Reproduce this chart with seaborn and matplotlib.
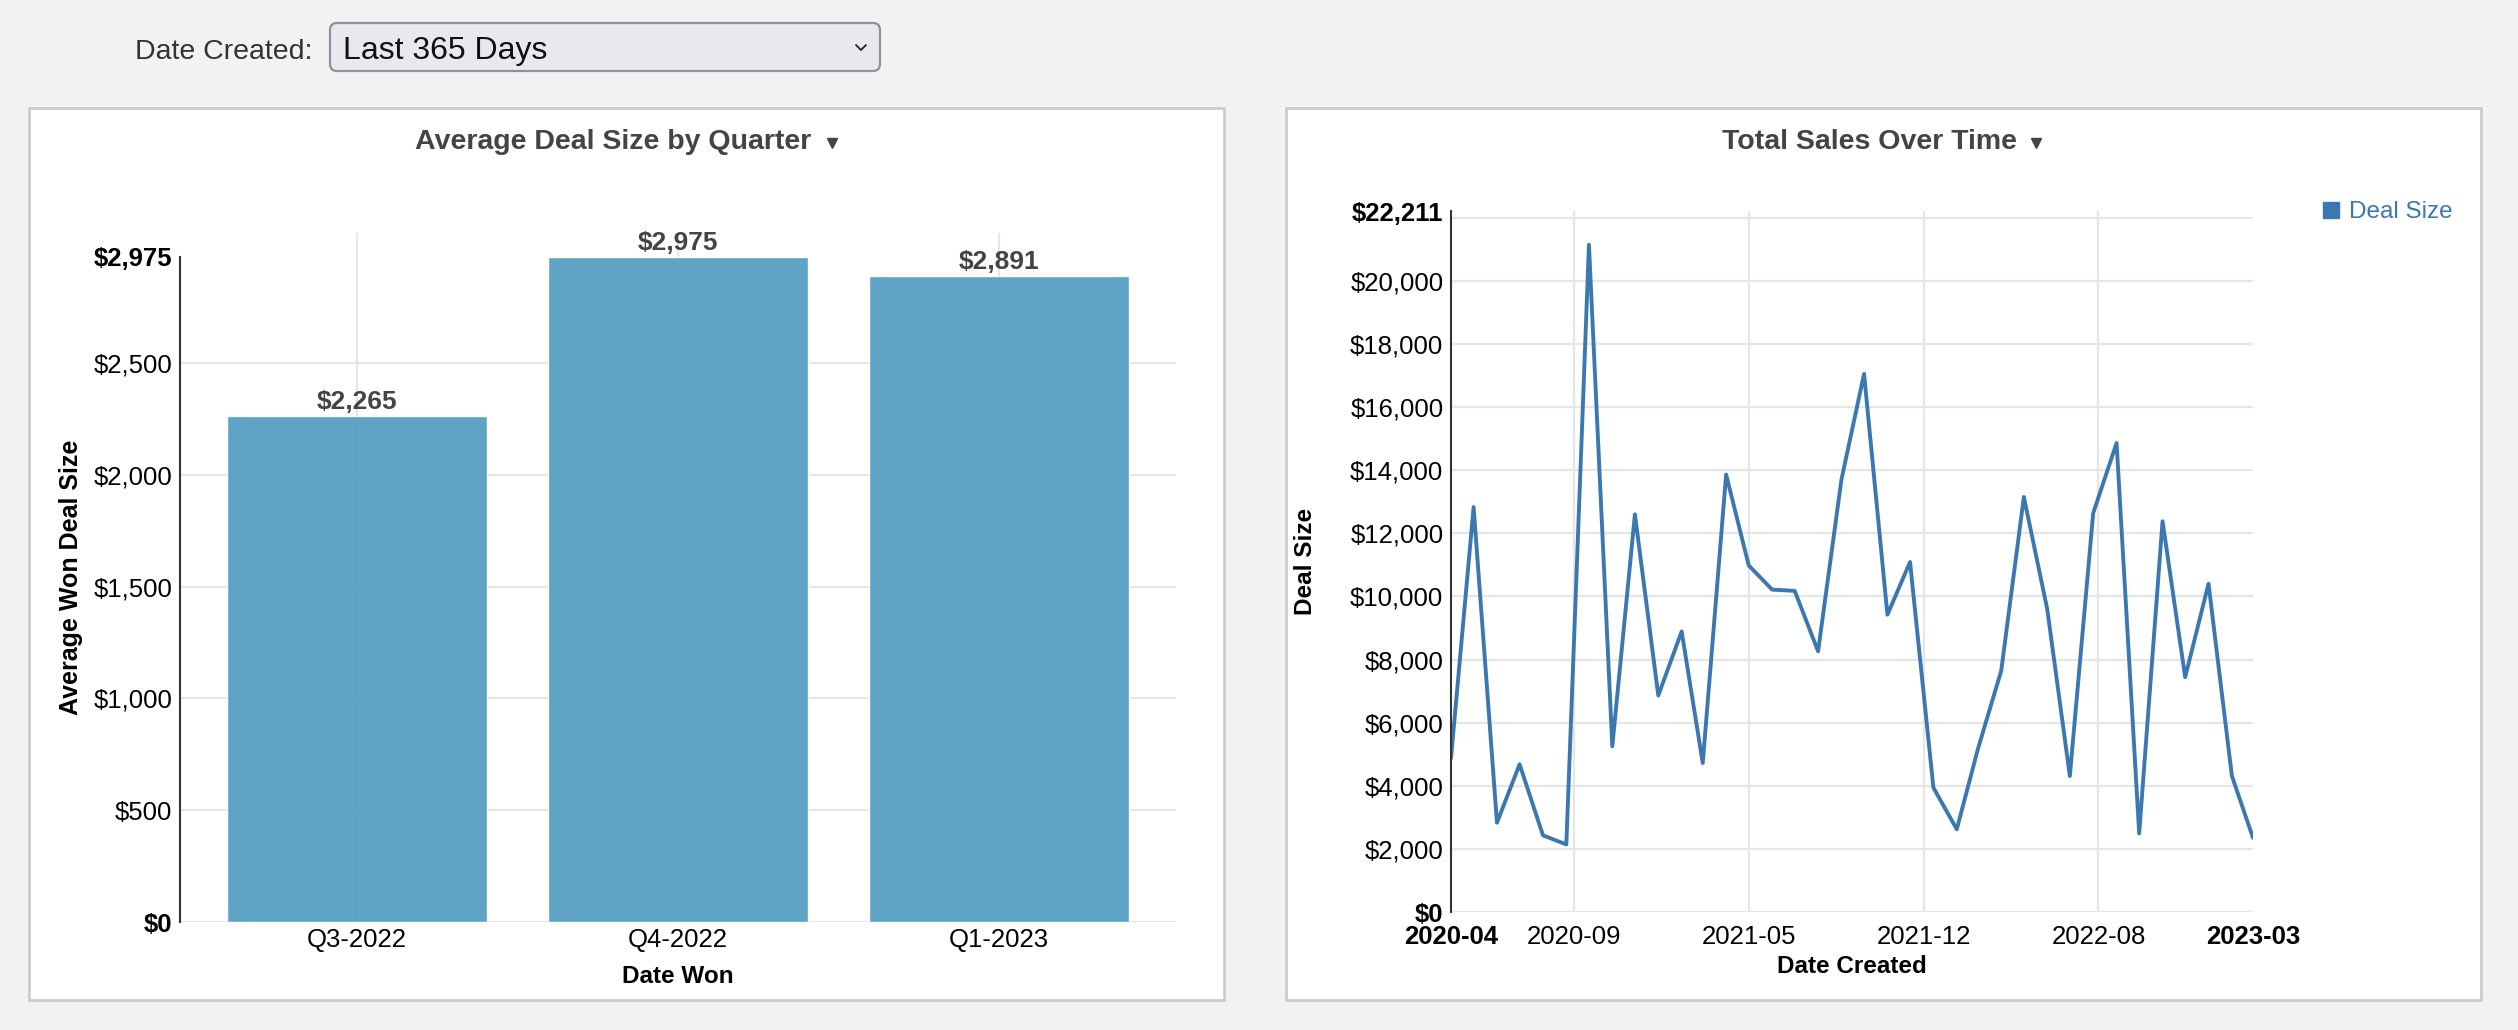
import matplotlib
matplotlib.use("Agg")
import matplotlib.pyplot as plt
import seaborn as sns
import pandas as pd
from matplotlib.patches import Rectangle, FancyBboxPatch
from matplotlib.lines import Line2D

# ---------------- data ----------------
quarters = ["Q3-2022", "Q4-2022", "Q1-2023"]
avg_won_deal = [2265, 2975, 2891]

months = pd.date_range("2020-04-01", "2023-03-01", freq="MS")
deal_size = [4870, 12830, 2830, 4680, 2430, 2140, 21140, 5250, 12600, 6860,
             8890, 4720, 13860, 10980, 10215, 10175, 8260, 13700, 17050, 9420,
             11090, 3940, 2620, 5160, 7645, 13150, 9600, 4310, 12640, 14860,
             2490, 12380, 7440, 10400, 4310, 2350]

bar_yticks = [0, 500, 1000, 1500, 2000, 2500, 2975]
line_yticks = [0, 2000, 4000, 6000, 8000, 10000, 12000, 14000, 16000, 18000,
               20000, 22000, 22211]
line_xtick_dates = ["2020-04-01", "2020-09-11", "2021-05-02", "2021-12-19",
                    "2022-08-08", "2023-03-01"]
line_xtick_labels = ["2020-04", "2020-09", "2021-05", "2021-12", "2022-08", "2023-03"]

# ---------------- style ----------------
sns.set_theme(style="white")
FAM = ["Liberation Sans", "DejaVu Sans"]
plt.rcParams["font.family"] = FAM

W, H = 2518, 1030
fig = plt.figure(figsize=(W / 100, H / 100), dpi=100)
fig.patch.set_facecolor("#F2F2F2")

BAR_C = "#579FC2"
LINE_C = "#3B78B0"
GRID_C = "#E6E6E6"
TICK_FS = 18.5

# background overlay in pixel coordinates
bg = fig.add_axes([0, 0, 1, 1], zorder=-5)
bg.set_xlim(0, W)
bg.set_ylim(H, 0)
bg.axis("off")

# panels
for x0, x1 in [(29, 1224), (1286, 2481)]:
    bg.add_patch(Rectangle((x0, 108), x1 - x0, 892, facecolor="white",
                           edgecolor="#CCCCCC", linewidth=2))

# filter control
bg.text(135, 52, "Date Created:", fontsize=20.5, color="#333333", ha="left", va="center")
bg.add_patch(FancyBboxPatch((330, 23), 550, 48,
                            boxstyle="round,pad=0,rounding_size=7",
                            facecolor="#E9E9ED", edgecolor="#8F8F9D", linewidth=1.6))
bg.text(343, 51, "Last 365 Days", fontsize=23, color="#111111", ha="left", va="center")
bg.add_line(Line2D([856, 861, 866], [45, 50, 45], color="#222222", linewidth=1.3))

# titles
bg.text(613, 142, "Average Deal Size by Quarter", fontsize=20.5, fontweight="bold",
        color="#444444", ha="center", va="center")
bg.plot([832], [143], marker="v", markersize=7, color="#444444")
bg.text(1870, 142, "Total Sales Over Time", fontsize=20.5, fontweight="bold",
        color="#444444", ha="center", va="center")
bg.plot([2036], [143], marker="v", markersize=7, color="#444444")


def money(v):
    return f"${v:,.0f}"


def style_axes(ax):
    ax.set_facecolor("none")
    for s in ["top", "right", "bottom"]:
        ax.spines[s].set_visible(False)
    ax.spines["left"].set_color("#333333")
    ax.spines["left"].set_linewidth(1.5)
    ax.grid(True, color=GRID_C, linewidth=1.6)
    ax.set_axisbelow(True)


# ---------------- bar chart ----------------
ax1 = fig.add_axes([180 / W, (H - 922) / H, 996 / W, (922 - 233) / H])
sns.barplot(x=quarters, y=avg_won_deal, color=BAR_C, saturation=1, width=0.81,
            alpha=0.95, ax=ax1)
style_axes(ax1)
ax1.set_xlim(-0.551, 2.551)
ax1.set_ylim(0, 3082)
ax1.spines["left"].set_bounds(0, 2975)
ax1.set_yticks(bar_yticks)
ax1.set_yticklabels([money(v) for v in bar_yticks])
ax1.yaxis.get_major_ticks()[-1].gridline.set_visible(False)
ax1.tick_params(axis="y", length=0, pad=5.5, labelsize=TICK_FS, labelcolor="black")
ax1.tick_params(axis="x", length=0, pad=4, labelsize=TICK_FS, labelcolor="black")
ylabs = ax1.get_yticklabels()
ylabs[0].set_fontweight("bold")
ylabs[-1].set_fontweight("bold")
ax1.bar_label(ax1.containers[0], labels=[money(v) for v in avg_won_deal],
              padding=1.5, fontsize=19, fontweight="bold", color="#444444")
ax1.set_xlabel("Date Won", fontsize=17.5, fontweight="bold", color="black", va="center")
ax1.xaxis.set_label_coords(0.5, -0.079)
ax1.set_ylabel("Average Won Deal Size", fontsize=18, fontweight="bold",
               color="black", va="center")
ax1.yaxis.set_label_coords(-0.1094, 0.5)

# ---------------- line chart ----------------
ax2 = fig.add_axes([1451 / W, (H - 912) / H, 802 / W, (912 - 211) / H])
sns.lineplot(x=months, y=deal_size, color=LINE_C, linewidth=2.8, ax=ax2)
style_axes(ax2)
ax2.set_xlim(months[0], months[-1])
ax2.set_ylim(0, 22211)
ax2.set_yticks(line_yticks)
ax2.set_yticklabels(["" if v == 22000 else money(v) for v in line_yticks])
ax2.yaxis.get_major_ticks()[-1].gridline.set_visible(False)
ax2.set_xticks(pd.to_datetime(line_xtick_dates))
ax2.set_xticklabels(line_xtick_labels)
xt = ax2.xaxis.get_major_ticks()
xt[0].gridline.set_visible(False)
xt[-1].gridline.set_visible(False)
ax2.tick_params(axis="y", length=0, pad=5.5, labelsize=TICK_FS, labelcolor="black")
ax2.tick_params(axis="x", length=0, pad=9, labelsize=TICK_FS, labelcolor="black")
for lab in (ax2.get_yticklabels()[0], ax2.get_yticklabels()[-1],
            ax2.get_xticklabels()[0], ax2.get_xticklabels()[-1]):
    lab.set_fontweight("bold")
ax2.set_xlabel("Date Created", fontsize=17.5, fontweight="bold", color="black", va="center")
ax2.xaxis.set_label_coords(0.4996, -0.078)
ax2.set_ylabel("Deal Size", fontsize=17.5, fontweight="bold", color="black", va="center")
ax2.yaxis.set_label_coords(-0.182, 0.5)

handle = Line2D([], [], marker="s", linestyle="none", markersize=11.5, color=LINE_C)
ax2.legend(handles=[handle], labels=["Deal Size"], loc="center left",
           bbox_to_anchor=(2322 / W, 1 - 212 / H), bbox_transform=fig.transFigure,
           frameon=False, fontsize=17.5, labelcolor=LINE_C, handlelength=0.7,
           handletextpad=0.4, borderpad=0, borderaxespad=0)

fig.savefig("out.png", dpi=100, facecolor=fig.get_facecolor())
